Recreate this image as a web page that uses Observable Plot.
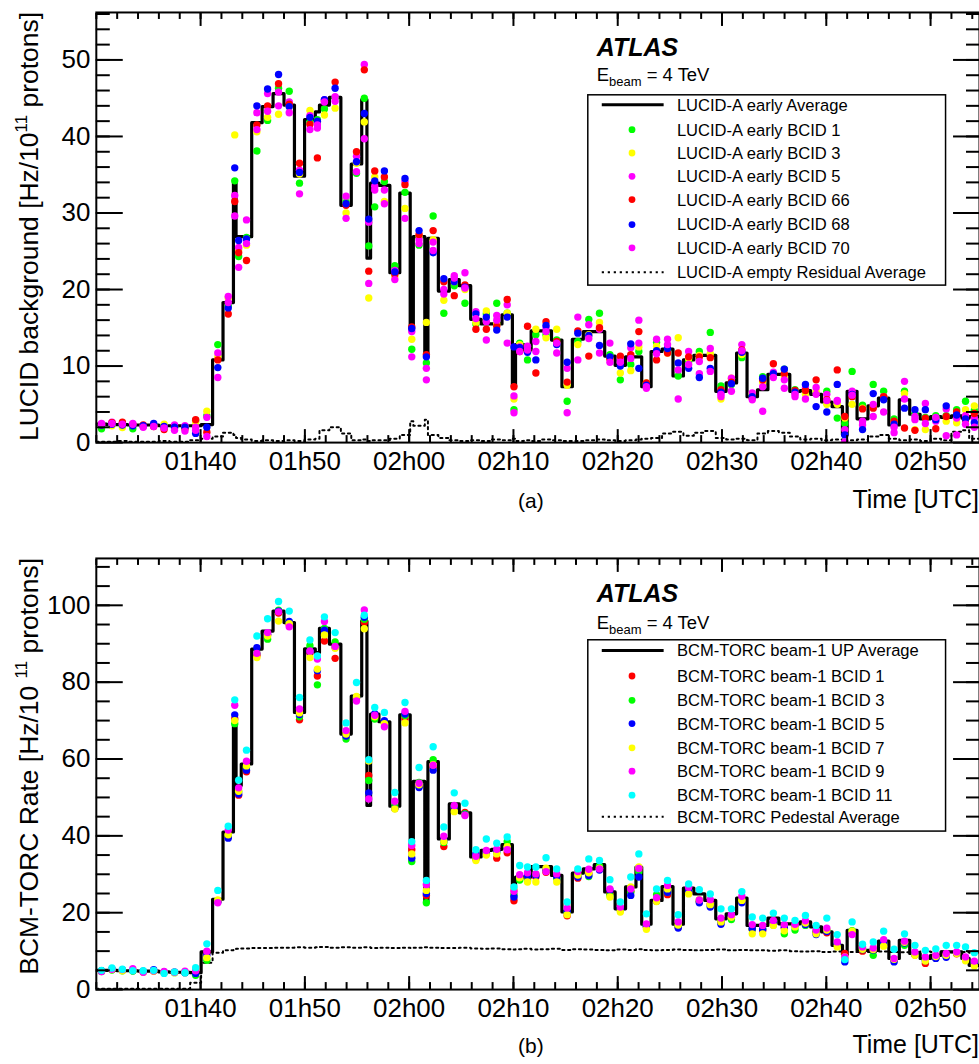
<!DOCTYPE html>
<html>
<head>
<meta charset="utf-8">
<script src="https://cdn.jsdelivr.net/npm/d3@7"></script>
<script src="https://cdn.jsdelivr.net/npm/@observablehq/plot@0.6"></script>
<style>
html, body { margin: 0; padding: 0; background: #fff; overflow: hidden; width: 979px; height: 1064px; }
#chart svg { display: block; }
</style>
</head>
<body>
<div id="chart"></div>
<script>
// ---------- DATA ----------
// bin edges, minutes after 01h30 UTC (shared by both panels)
const binEdges = [0,1,2,3,4,5,6,7,8,9,10.05,
  11.15,12.15,13.15,13.4,13.9,14.9,15.9,16.95,18.0,19.0,
  19.97,21.0,21.4,22.35,23.45,24.45,25.45,25.95,26.3,27.1,
  28.15,29.1,30.1,30.4,31.5,31.8,32.8,33.85,34.8,35.9,
  36.9,37.9,38.9,39.9,40.2,41.0,41.7,42.6,43.65,44.65,
  45.65,46.7,47.75,48.75,49.75,50.75,51.75,52.3,53.2,54.25,
  55.3,56.3,57.3,58.35,59.4,60.4,61.4,62.4,63.4,64.4,
  65.45,66.5,67.5,68.5,69.55,70.55,71.55,72.0,72.95,74.0,
  75.0,76.0,77.0,78.0,79.0,80.0,81.0,82.0,83.0,83.7,84.69];

const timeStart = 0, timeEnd = 84.69;
const timeMajor = ["01:40","01:50","02:00","02:10","02:20","02:30","02:40","02:50"];

// Panel (a): LUCID
const lucidAvg = [2.4,2.35,2.35,2.3,2.3,2.3,2.2,2.2,2.2,2.2,
  2.35,10.8,18.3,34.0,26.9,26.9,41.8,43.9,45.6,44.1,
  34.8,42.2,43.2,44.1,45.1,31.0,36.4,44.8,24.1,33.9,
  33.6,22.2,32.6,14.7,26.9,11.3,26.7,19.8,21.3,20.5,
  16.1,15.5,15.5,16.7,7.3,12.8,12.1,14.6,14.6,13.4,
  7.3,13.5,14.5,14.5,11.3,10.1,11.2,11.2,7.3,11.9,
  12.2,8.7,10.8,11.4,11.4,6.7,7.8,11.7,6.0,6.9,
  8.9,8.9,6.7,6.8,6.3,5.3,4.7,1.0,6.7,3.1,
  4.8,5.8,2.3,5.6,3.7,3.1,3.4,3.3,3.5,3.2,3.4];
const lucidResidual = [0.1,0.1,0.2,0.1,0.1,0.1,0.2,0.1,0.1,0.3,
  0.5,0.8,1.3,1.0,0.6,0.4,0.2,0.3,0.2,0.3,
  0.2,0.4,0.5,1.6,2.0,1.2,0.3,0.4,0.2,0.3,
  0.3,0.5,1.0,2.8,2.2,3.0,1.0,0.6,0.3,0.2,
  0.3,0.2,0.4,0.3,0.5,0.2,0.3,0.2,0.4,0.3,
  0.2,0.2,0.3,0.4,0.3,0.2,0.3,0.4,0.5,0.6,
  1.2,1.4,0.9,1.3,1.5,0.6,0.4,0.5,0.3,1.2,
  1.5,1.3,0.8,0.4,0.5,0.3,0.4,0.2,0.3,0.4,
  0.8,1.0,0.5,0.3,0.4,0.2,0.5,0.3,1.4,1.6,0.5];
const lucidBcid1 = [1.8,2.3,2.2,1.8,2.2,2.3,2.2,2.0,2.1,2.9,
  3.5,12.8,17.9,34.2,24.3,26.8,38.1,42.1,46.3,45.9,
  33.9,41.9,42.2,43.6,45.0,31.4,35.2,45.0,25.7,30.8,
  34.1,23.1,32.7,12.2,25.8,10.4,29.6,16.9,20.5,18.2,
  15.5,16.8,18.2,16.9,4.3,13.0,10.8,14.1,14.1,13.4,
  5.4,13.2,16.1,16.9,11.5,8.2,10.2,11.9,7.6,13.1,
  12.0,8.7,10.6,11.9,14.4,7.4,7.6,11.1,6.2,8.6,
  8.8,9.6,6.9,6.8,6.5,6.7,3.2,2.5,9.3,4.9,
  7.6,6.7,3.1,6.7,3.7,3.3,3.5,3.5,4.3,5.4,4.2];
const lucidBcid3 = [2.4,2.2,1.96,2.3,2.1,2.2,2.4,2.1,1.9,2.65,
  4.1,11.2,18.9,40.2,25.2,25.8,40.6,42.5,42.9,43.9,
  35.1,43.4,41.8,42.8,43.7,30.0,36.5,41.9,18.9,34.7,
  31.5,21.7,30.6,13.5,26.9,15.7,26.5,18.6,21.0,20.0,
  15.7,17.2,15.5,16.9,5.7,12.8,12.1,14.8,13.7,14.8,
  7.5,12.8,14.1,15.7,10.9,9.1,9.4,12.5,7.8,12.6,
  11.7,13.7,11.0,11.4,11.6,5.7,8.4,11.5,6.4,7.9,
  8.7,8.7,6.5,6.3,6.7,5.0,5.0,3.2,5.0,4.5,
  4.7,6.0,2.6,6.4,1.7,1.7,3.2,2.8,2.6,4.3,4.8];
const lucidBcid5 = [2.5,2.65,2.5,2.5,2.1,2.2,2.0,2.3,2.2,2.0,
  3.3,11.7,19.1,32.3,25.5,29.1,43.1,45.6,45.8,44.5,
  35.6,42.7,41.1,44.8,44.6,32.2,37.4,49.4,28.8,33.5,
  33.0,22.5,34.1,14.5,26.5,9.7,26.2,19.4,21.8,22.2,
  17.1,15.8,16.6,18.0,6.1,12.5,12.6,13.2,15.0,11.7,
  9.7,16.4,15.4,14.8,13.0,11.0,12.4,16.0,7.1,13.5,
  13.5,5.7,11.9,9.0,12.3,6.0,8.4,12.8,6.5,7.3,
  9.2,7.1,6.0,7.1,7.2,6.3,5.4,1.7,6.7,2.3,
  3.4,6.0,1.3,8.0,3.0,5.1,2.8,4.4,3.2,3.5,3.2];
const lucidBcid66 = [2.3,2.6,2.65,2.3,2.3,2.1,1.7,1.9,1.8,3.0,
  1.35,10.8,16.8,31.5,24.8,23.8,41.5,44.0,46.9,44.2,
  36.5,41.6,37.2,44.6,47.1,31.0,38.0,48.7,22.4,35.5,
  34.7,22.0,33.7,15.1,27.2,11.5,27.7,21.0,19.2,20.6,
  14.8,14.8,15.2,18.7,7.3,11.9,15.2,9.1,15.8,13.2,
  7.9,14.6,11.3,15.0,11.0,11.3,11.5,14.5,7.8,10.8,
  11.7,11.7,11.2,11.2,11.1,6.9,7.9,12.1,5.8,8.2,
  10.3,9.0,6.8,6.8,8.2,5.6,9.5,3.4,6.0,4.4,
  4.5,6.0,2.8,1.9,1.6,3.2,1.8,3.4,4.0,3.0,3.8];
const lucidBcid68 = [2.3,2.4,2.3,2.2,2.2,2.5,2.1,2.0,2.0,1.2,
  2.0,9.8,17.6,35.9,26.4,26.6,44.0,46.2,48.1,43.9,
  35.3,42.5,42.0,44.8,46.3,31.2,36.7,43.0,29.2,34.2,
  35.5,22.3,34.5,14.9,27.7,11.2,24.8,21.4,21.0,20.3,
  16.8,16.4,14.7,16.4,12.5,12.4,11.8,10.8,15.3,12.8,
  10.5,14.3,14.0,12.7,11.2,10.0,12.9,9.7,7.5,12.0,
  12.3,10.4,9.7,8.5,9.7,6.6,7.7,11.8,6.0,8.4,
  9.0,9.6,6.6,7.6,4.7,4.0,7.6,1.0,6.3,1.7,
  6.4,5.6,2.4,4.5,4.3,4.3,3.0,4.8,3.6,3.1,2.6];
const lucidBcid70 = [2.4,2.5,2.4,2.4,2.0,2.1,1.9,1.6,1.5,1.6,
  0.8,8.5,18.3,29.6,22.9,26.0,40.9,43.3,44.0,43.1,
  32.5,40.9,41.5,44.5,45.2,29.3,35.4,39.7,20.8,33.0,
  31.2,21.3,29.3,11.2,26.0,8.2,25.1,20.0,21.5,20.2,
  16.2,13.4,16.0,13.0,3.9,11.9,12.1,11.9,14.5,13.0,
  3.9,10.8,13.6,11.7,10.5,10.5,11.0,13.0,7.3,11.6,
  12.8,9.5,10.2,10.6,9.3,6.3,6.7,12.0,5.6,4.1,
  8.5,8.2,6.3,5.7,6.3,5.5,5.5,0.1,6.2,2.8,
  5.0,4.0,2.0,5.7,3.4,2.5,3.3,0.9,1.0,2.4,2.0];
const lucidYMajor = [0,10,20,30,40,50];
const lucidNames = ["LUCID-A early Average","LUCID-A early BCID 1","LUCID-A early BCID 3","LUCID-A early BCID 5",
  "LUCID-A early BCID 66","LUCID-A early BCID 68","LUCID-A early BCID 70","LUCID-A empty Residual Average"];
const lucidColors = ["#00ff00","#ffff00","#ff00ff","#ff0000","#0000ff","#ff00ff"];

// Panel (b): BCM-TORC
const torcAvg = [5.0,5.0,4.9,4.9,4.8,4.8,4.6,4.5,4.5,4.4,
  9.8,23.5,41.0,68.7,53.1,58.7,88.6,93.3,98.5,95.5,
  72.1,88.7,87.7,94.0,89.9,66.5,76.4,95.9,47.9,71.7,
  69.7,47.7,71.5,33.6,54.2,22.8,59.3,39.2,48.3,46.0,
  34.5,36.2,36.5,37.7,23.2,29.3,29.3,32.0,32.0,29.7,
  20.2,30.3,31.4,32.5,25.4,21.0,26.7,31.9,17.0,23.2,
  26.8,17.0,26.4,24.9,23.2,18.4,19.7,23.8,16.7,16.7,
  18.6,17.1,17.1,17.6,16.3,15.0,11.5,9.0,15.4,10.2,
  10.2,12.6,8.1,12.8,9.4,8.1,8.9,9.8,9.8,8.1,6.3];
const torcPedestal = [0.2,0.2,0.2,0.2,0.2,0.2,0.2,0.2,0.2,1.8,
  7.0,9.6,10.2,10.4,10.6,10.7,10.8,10.8,10.9,10.9,
  11.0,10.9,11.0,11.1,10.9,11.0,10.9,11.0,11.0,10.8,
  10.9,10.8,10.9,10.8,10.9,11.0,10.9,10.8,10.8,10.9,
  10.7,10.6,10.7,10.5,10.4,10.5,10.6,10.4,10.5,10.6,
  10.3,10.5,10.4,10.3,10.2,10.4,10.3,10.5,10.3,10.2,
  10.3,10.4,10.3,10.2,10.3,10.4,10.2,10.3,10.2,10.2,
  10.1,10.2,10.0,9.9,10.0,9.8,9.9,9.9,9.8,9.8,
  9.8,9.9,9.8,9.7,9.8,9.9,9.8,9.9,9.7,9.8,9.6];
const torcBcid1 = [4.9,5.2,5.0,4.9,4.6,4.8,4.4,4.5,4.5,4.6,
  9.5,23.0,39.8,70.5,50.6,56.7,87.0,92.3,98.0,95.0,
  70.2,87.5,81.6,90.7,86.2,65.8,75.8,95.5,55.7,70.9,
  69.5,47.2,70.5,36.4,53.0,24.5,58.0,37.2,47.3,46.1,
  34.0,35.4,34.2,35.6,23.1,28.9,29.0,29.3,30.5,29.5,
  19.2,29.0,30.2,31.5,25.0,20.8,25.6,31.1,16.3,23.4,
  24.7,16.2,25.3,22.9,22.3,17.6,18.7,23.0,15.6,15.3,
  17.4,16.0,16.9,17.0,14.9,14.8,11.6,9.4,15.0,10.0,
  10.2,12.3,7.6,12.2,9.0,6.8,8.3,9.0,9.3,8.1,6.7];
const torcBcid3 = [4.7,5.1,4.9,4.8,4.7,4.9,4.5,4.4,4.4,3.7,
  7.6,23.0,40.0,69.2,51.5,57.8,87.5,91.2,98.7,95.5,
  71.0,89.5,79.3,94.0,90.5,65.2,76.0,96.4,54.4,70.4,
  69.6,47.5,71.3,33.3,53.9,22.6,59.8,38.3,47.5,45.8,
  34.2,35.6,35.6,38.5,24.6,28.5,28.3,29.9,31.0,29.0,
  20.1,29.7,29.4,32.2,24.5,20.8,25.4,30.6,16.6,24.7,
  25.4,16.6,25.7,23.0,21.8,17.9,18.2,23.4,15.7,15.9,
  16.8,14.5,15.5,16.7,15.2,15.4,11.7,8.0,15.3,10.4,
  8.9,12.1,7.9,11.5,9.3,7.8,8.2,8.8,9.6,7.9,6.9];
const torcBcid5 = [4.9,5.3,5.1,5.0,4.8,5.2,4.6,4.5,4.4,4.2,
  9.0,22.8,39.4,71.5,50.9,57.1,89.0,92.5,98.5,95.8,
  71.6,88.0,83.0,93.5,89.0,66.0,76.1,96.9,51.2,71.8,
  70.0,47.1,71.7,34.2,52.6,25.0,57.1,38.8,47.6,45.6,
  35.2,35.5,36.0,36.8,24.1,29.4,29.6,29.6,31.3,29.4,
  20.4,29.3,29.7,31.1,25.9,21.1,24.5,29.3,16.5,23.0,
  25.3,16.0,25.6,22.6,21.5,17.0,18.9,22.6,15.9,15.6,
  17.5,16.3,16.6,16.9,14.3,15.1,11.9,7.2,14.8,10.4,
  10.3,12.4,7.2,12.1,9.1,7.5,8.1,8.4,9.5,8.2,7.0];
const torcBcid7 = [4.8,5.2,4.9,5.0,4.6,4.8,4.5,4.4,4.6,5.0,
  8.3,23.3,40.3,70.0,51.6,58.2,86.4,92.0,95.9,95.2,
  72.0,86.4,83.4,92.3,88.8,66.5,76.3,93.9,59.5,71.0,
  69.2,47.0,69.4,35.3,53.3,25.8,58.5,38.5,46.3,45.4,
  33.6,35.0,35.3,37.2,25.9,29.1,28.0,28.0,31.6,28.0,
  19.5,29.8,30.4,31.6,24.1,20.2,26.7,31.9,15.7,22.9,
  26.2,16.8,24.9,23.4,22.1,17.6,18.8,23.2,14.5,14.5,
  16.7,15.3,16.3,17.3,14.5,15.5,11.1,8.5,15.2,10.5,
  10.4,11.3,7.9,12.3,8.9,7.4,8.6,8.9,9.4,7.5,6.1];
const torcBcid9 = [4.7,5.3,5.2,5.4,4.5,4.9,4.7,4.5,4.8,4.9,
  10.0,22.6,41.5,74.0,52.5,59.4,87.5,92.9,98.3,94.4,
  73.0,88.1,86.0,95.8,89.3,67.4,75.1,98.8,49.6,71.4,
  68.4,49.0,72.4,37.5,53.7,27.3,58.4,39.9,47.9,45.3,
  34.7,36.2,36.5,36.4,25.6,29.9,30.4,30.1,30.7,30.1,
  21.2,30.7,31.3,31.4,26.2,21.5,26.2,31.5,17.1,23.9,
  27.1,17.6,26.6,23.3,23.4,18.6,19.5,24.3,16.9,16.7,
  18.0,16.9,17.0,17.9,15.5,16.0,12.4,8.5,14.3,11.1,
  10.8,13.0,8.1,12.6,9.8,8.5,8.9,9.4,9.8,8.5,7.4];
const torcBcid11 = [5.0,5.6,5.3,4.9,4.9,5.0,4.2,4.6,4.4,5.7,
  11.9,25.8,42.5,75.4,54.5,62.3,92.0,96.5,101.0,98.5,
  76.0,91.0,86.8,97.0,92.9,69.4,79.9,97.4,59.8,73.4,
  72.1,51.3,74.7,38.5,57.8,28.4,63.2,42.3,51.2,48.5,
  36.4,39.2,38.1,39.7,26.7,32.3,31.9,31.9,34.3,31.4,
  22.8,31.4,34.0,33.6,28.6,22.8,29.3,35.3,19.7,26.2,
  28.4,19.5,27.5,26.0,24.9,21.0,21.0,25.5,18.9,18.6,
  19.9,18.6,18.0,19.3,16.7,18.6,14.3,7.8,17.6,11.8,
  12.4,15.2,10.5,14.5,11.5,10.2,10.6,11.5,11.5,11.1,9.6];
const torcYMajor = [0,20,40,60,80,100];
const torcNames = ["BCM-TORC beam-1 UP Average","BCM-TORC beam-1 BCID 1","BCM-TORC beam-1 BCID 3","BCM-TORC beam-1 BCID 5",
  "BCM-TORC beam-1 BCID 7","BCM-TORC beam-1 BCID 9","BCM-TORC beam-1 BCID 11","BCM-TORC Pedestal Average"];
const torcColors = ["#ff0000","#00ff00","#0000ff","#ffff00","#ff00ff","#00ffff"];

// ---------- RENDER ----------
const FONT = "'Liberation Sans', Arial, Helvetica, sans-serif";
const T0 = Date.UTC(2012, 6, 1, 1, 30);
const toDate = m => new Date(T0 + m * 60000);
const hm = s => { const [h, m] = s.split(":").map(Number); return (h - 1) * 60 + m - 30; };
const majorDates = timeMajor.map(s => toDate(hm(s)));
const minorDates = d3.range(0, 85, 2).map(toDate);
const nBins = binEdges.length - 1;

function stepRows(vals) {
  return binEdges.map((e, i) => ({t: toDate(e), v: vals[Math.min(i, nBins - 1)]}));
}
function dotRows(vals) {
  return vals.map((v, i) => ({t: toDate((binEdges[i] + binEdges[i + 1]) / 2), v}));
}

function panel(cfg) {
  const yMinor = d3.range(cfg.minorStep, cfg.yMax, cfg.minorStep);
  const marks = [
    Plot.line(stepRows(cfg.dotted), {x: "t", y: "v", curve: "step-after", stroke: "black", strokeWidth: 2, strokeDasharray: "2.2,3.6", clip: true}),
    Plot.line(stepRows(cfg.avg), {x: "t", y: "v", curve: "step-after", stroke: "black", strokeWidth: 3.2, clip: true}),
    ...cfg.series.map((s, k) => Plot.dot(dotRows(s), {x: "t", y: "v", r: 3.7, fill: cfg.colors[k], stroke: "none", clip: true})),
    Plot.axisX({ticks: majorDates, anchor: "bottom", tickSize: -13, tickPadding: 22, tickFormat: d3.utcFormat("%Hh%M"), label: null, strokeWidth: 2}),
    Plot.axisX({ticks: minorDates, anchor: "bottom", tickSize: -7, tickFormat: () => "", label: null, strokeWidth: 2}),
    Plot.axisX({ticks: majorDates, anchor: "top", tickSize: -13, tickFormat: () => "", label: null, strokeWidth: 2}),
    Plot.axisX({ticks: minorDates, anchor: "top", tickSize: -6, tickFormat: () => "", label: null, strokeWidth: 2}),
    Plot.axisY({ticks: cfg.yMajor, anchor: "left", tickSize: -27, tickPadding: 33, tickFormat: d => String(d), label: null, strokeWidth: 2}),
    Plot.axisY({ticks: yMinor, anchor: "left", tickSize: -14, tickFormat: () => "", label: null, strokeWidth: 2}),
    Plot.axisY({ticks: cfg.yMajor, anchor: "right", tickSize: -27, tickFormat: () => "", label: null, strokeWidth: 2}),
    Plot.axisY({ticks: yMinor, anchor: "right", tickSize: -14, tickFormat: () => "", label: null, strokeWidth: 2}),
    Plot.frame({stroke: "black", strokeWidth: 2})
  ];
  const svg = Plot.plot({
    width: 981, height: cfg.height,
    marginLeft: 96, marginRight: 0, marginTop: cfg.mt, marginBottom: cfg.mb,
    x: {type: "utc", domain: [toDate(timeStart), toDate(timeEnd)]},
    y: {domain: [0, cfg.yMax]},
    style: {fontFamily: FONT, fontSize: "26px", color: "black", background: "white", overflow: "visible"},
    marks
  });
  decorate(svg, cfg);
  return svg;
}

function decorate(svg, cfg) {
  const g = d3.select(svg).append("g").attr("font-family", FONT).attr("fill", "black").attr("text-anchor", "start");
  g.append("text").attr("x", 598).attr("y", cfg.atlasY).attr("font-size", 25)
    .attr("font-weight", "bold").attr("font-style", "italic").text("ATLAS");
  const e = g.append("text").attr("x", 598).attr("y", cfg.ebeamY).attr("font-size", 18.5);
  e.append("tspan").text("E");
  e.append("tspan").attr("font-size", 13).attr("dy", 5).text("beam");
  e.append("tspan").attr("dy", -5).text(" = 4 TeV");

  g.append("rect").attr("x", 589).attr("y", cfg.box[0]).attr("width", 358.5)
    .attr("height", cfg.box[1] - cfg.box[0]).attr("fill", "white").attr("stroke", "black").attr("stroke-width", 1.5);
  cfg.names.forEach((name, i) => {
    const yy = cfg.rows[i];
    if (i === 0) {
      g.append("line").attr("x1", 603).attr("x2", 665).attr("y1", yy).attr("y2", yy)
        .attr("stroke", "black").attr("stroke-width", 3);
    } else if (i === cfg.names.length - 1) {
      g.append("line").attr("x1", 603).attr("x2", 665).attr("y1", yy).attr("y2", yy)
        .attr("stroke", "black").attr("stroke-width", 2).attr("stroke-dasharray", "2.2,3.8");
    } else {
      g.append("circle").attr("cx", 633.3).attr("cy", yy).attr("r", 3.4).attr("fill", cfg.colors[i - 1]);
    }
    g.append("text").attr("x", 678.3).attr("y", yy).attr("dy", "0.36em").attr("font-size", 16.6).text(name);
  });

  const t = g.append("text").attr("transform", `translate(38,${cfg.mt}) rotate(-90)`)
    .attr("text-anchor", "end").attr("font-size", 26.5);
  t.append("tspan").text(cfg.title[0]);
  t.append("tspan").attr("font-size", 17).attr("dy", -11).text(cfg.title[1]);
  t.append("tspan").attr("dy", 11).text(cfg.title[2]);

  g.append("text").attr("x", 532).attr("y", cfg.bottomY).attr("text-anchor", "middle").attr("font-size", 21).text(cfg.tag);
  g.append("text").attr("x", 981).attr("y", cfg.bottomY).attr("text-anchor", "end").attr("font-size", 25).text("Time [UTC]");
}

const chart = document.getElementById("chart");
chart.appendChild(panel({
  height: 530, mt: 12, mb: 87, yMax: 56.2, yMajor: lucidYMajor, minorStep: 2,
  avg: lucidAvg, dotted: lucidResidual,
  series: [lucidBcid1, lucidBcid3, lucidBcid5, lucidBcid66, lucidBcid68, lucidBcid70],
  colors: lucidColors, names: lucidNames,
  atlasY: 56, ebeamY: 81.5, box: [95, 285.7],
  rows: [105, 130, 153.3, 176.7, 200, 225, 248.3, 272.7],
  title: ["LUCID background [Hz/10", "11", " protons]"],
  tag: "(a)", bottomY: 509
}));
chart.appendChild(panel({
  height: 534, mt: 29, mb: 73, yMax: 112.2, yMajor: torcYMajor, minorStep: 5,
  avg: torcAvg, dotted: torcPedestal,
  series: [torcBcid1, torcBcid3, torcBcid5, torcBcid7, torcBcid9, torcBcid11],
  colors: torcColors, names: torcNames,
  atlasY: 73, ebeamY: 100, box: [111, 302.7],
  rows: [121.7, 147.3, 171.7, 195, 219.3, 242.7, 266.7, 288.3],
  title: ["BCM-TORC Rate [Hz/10 ", "11", " protons]"],
  tag: "(b)", bottomY: 525
}));
</script>
</body>
</html>
